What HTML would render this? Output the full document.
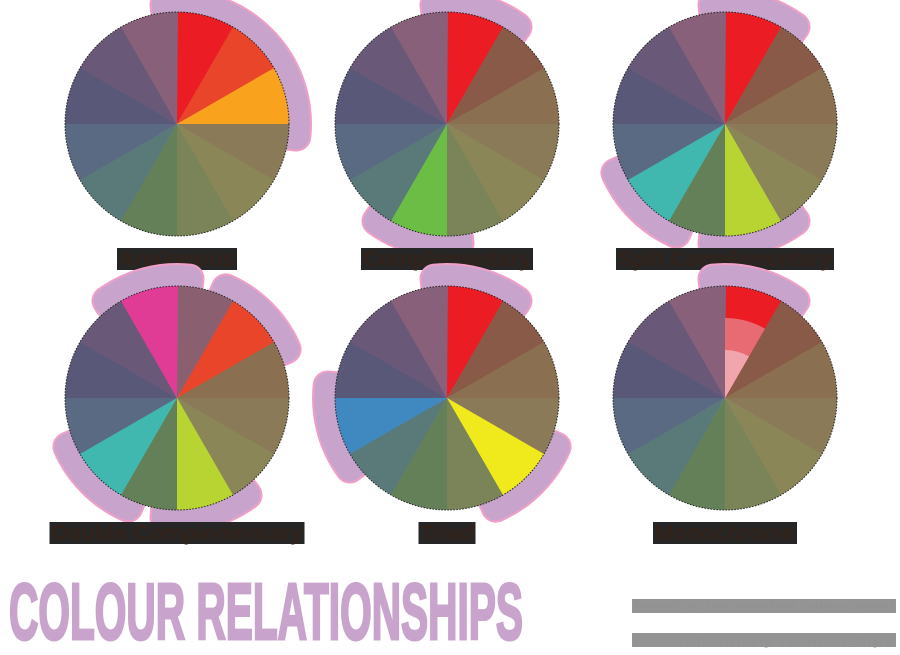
<!DOCTYPE html>
<html><head><meta charset="utf-8"><style>
body{margin:0;background:#fff;width:900px;height:650px;overflow:hidden;font-family:"Liberation Sans",sans-serif}
</style></head><body>
<svg id="chart" width="900" height="650" viewBox="0 0 900 650" xmlns="http://www.w3.org/2000/svg">
<g id="wheels"></g>
<text x="9" y="639" font-family="Liberation Sans Narrow, Liberation Sans, sans-serif" font-weight="bold" font-size="80" fill="#c8a4cc" stroke="#c8a4cc" stroke-width="3" textLength="514" lengthAdjust="spacingAndGlyphs">COLOUR RELATIONSHIPS</text>
<g>
<rect x="632" y="599" width="264" height="14" fill="#949494"/>
<rect x="632" y="633" width="264" height="14" fill="#949494"/>
<text x="634" y="611" font-size="13" font-weight="bold" fill="#929292" textLength="260" lengthAdjust="spacingAndGlyphs">Based on the standard colour wheel</text>
<text x="634" y="645" font-size="13" font-weight="bold" fill="#929292" textLength="260" lengthAdjust="spacingAndGlyphs">colour harmony relationships</text>
</g>
</svg>
<script>
const schemeNames = ["Analogous","Complementary","Split Complementary","Double Complementary","Triad","Monochrome"];
const vividSegments = [[0,1,2],[0,6],[0,5,7],[11,1,5,7],[0,4,8],[0]];
const mutedColors = ["#8a6070","#8a5a48","#8a7050","#8a7a58","#8a8658","#7a8458","#648058","#5a7a7a","#5a6a82","#5a5878","#6a5878","#88607a"];
const vividColors = ["#ec1c24","#e8452a","#f8a21e","#f2a01e","#f0ea1c","#b8d432","#6cbd45","#40b8b0","#4088c0","#5a4c9a","#8a4c9a","#e03c96"];
const monoShades = ["#ec1c24","#e86a72","#f0a6ac"];
const centersX = [177,447,725];
const centersY = [124,398];
const labelWidths = [120,172,218,255,57,144];
const NS="http://www.w3.org/2000/svg";
const R=112;
const g=document.getElementById('wheels');
function pt(cx,cy,r,a){const t=(a-90)*Math.PI/180;return [cx+r*Math.cos(t),cy+r*Math.sin(t)];}
function wedge(cx,cy,r,a0,a1){const p0=pt(cx,cy,r,a0),p1=pt(cx,cy,r,a1);return `M${cx},${cy}L${p0[0]},${p0[1]}A${r},${r} 0 0 1 ${p1[0]},${p1[1]}Z`;}
schemeNames.forEach((name,i)=>{
  const cx=centersX[i%3], cy=centersY[Math.floor(i/3)];
  const grp=document.createElementNS(NS,'g');
  
  
  g.appendChild(grp);
  const viv=vividSegments[i];
  [['#f0a0c8',30],['#c8a4cc',26]].forEach(([col,sw])=>{
    viv.forEach(s=>{
      const b=document.createElementNS(NS,'path');
      b.setAttribute('d',wedge(cx,cy,R+8,s*30-6,s*30+36));
      b.setAttribute('fill',col);b.setAttribute('stroke',col);b.setAttribute('stroke-width',sw);b.setAttribute('stroke-linejoin','round');
      
      
      grp.appendChild(b);
    });
  });
  for(let s=0;s<12;s++){
    const isV=viv.includes(s);
    const p=document.createElementNS(NS,'path');
    p.setAttribute('d',wedge(cx,cy,R,s*30,s*30+30.5));
    p.setAttribute('fill',isV?(i===5?monoShades[0]:vividColors[s]):mutedColors[s]);
    
    
    grp.appendChild(p);
  }
  if(i===5){
    [[80,1],[48,2]].forEach(([r,k])=>{
      const p=document.createElementNS(NS,'path');
      p.setAttribute('d',wedge(cx,cy,r,0,30));p.setAttribute('fill',monoShades[k]);
      
      
      grp.appendChild(p);
    });
  }
  const c=document.createElementNS(NS,'circle');
  c.setAttribute('cx',cx);c.setAttribute('cy',cy);c.setAttribute('r',R);c.setAttribute('fill','none');c.setAttribute('stroke','#222');c.setAttribute('stroke-width','1');c.setAttribute('stroke-dasharray','1.5 1.5');
  grp.appendChild(c);
  const lw=labelWidths[i], ly=cy+124;
  const rc=document.createElementNS(NS,'rect');
  rc.setAttribute('x',cx-lw/2);rc.setAttribute('y',ly);rc.setAttribute('width',lw);rc.setAttribute('height',22);rc.setAttribute('fill','#262626');
  
  
  grp.appendChild(rc);
  const t=document.createElementNS(NS,'text');
  t.setAttribute('x',cx);t.setAttribute('y',ly+18);t.setAttribute('text-anchor','middle');t.setAttribute('font-size','21');t.setAttribute('font-weight','bold');t.setAttribute('fill','#33221a');
  t.setAttribute('textLength',lw-4);t.setAttribute('lengthAdjust','spacingAndGlyphs');
  t.textContent=name;
  
  
  grp.appendChild(t);
});
</script>
</body></html>
